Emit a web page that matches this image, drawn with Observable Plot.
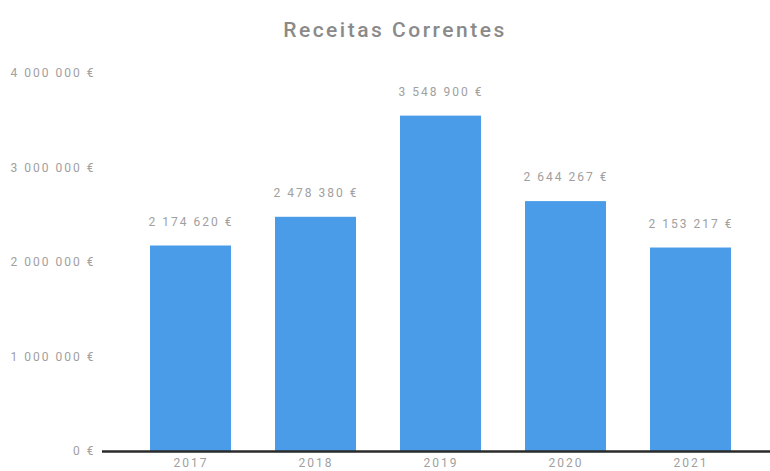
<!DOCTYPE html>
<html><head><meta charset="utf-8">
<script src="https://cdn.jsdelivr.net/npm/d3@7"></script>
<script src="https://cdn.jsdelivr.net/npm/@observablehq/plot@0.6"></script>
<style>
body{margin:0;background:#fff;font-family:Roboto,"Noto Sans",sans-serif;}
#title{height:50px;line-height:60px;text-align:center;font-size:21px;font-weight:500;color:#8a8a8a;letter-spacing:2.5px;padding-left:20px;}
svg text{letter-spacing:2px;}
</style></head>
<body>
<div id="title">Receitas Correntes</div>
<div id="chart"></div>
<script>
const years = ["2017","2018","2019","2020","2021"];
const values = [2174620, 2478380, 3548900, 2644267, 2153217];
const yTicks = [0, 1000000, 2000000, 3000000, 4000000];

const loc = d3.formatLocale({decimal:",", thousands:" ", grouping:[3], currency:["", " €"]});
const fmt = v => loc.format(",.0f")(v) + " €";
const data = years.map((y,i)=>({year:y, value:values[i]}));

const chart = Plot.plot({
  width: 770, height: 421,
  marginLeft: 102, marginRight: 0, marginTop: 23, marginBottom: 20,
  style: {fontFamily: "Roboto, sans-serif", fontSize: "12px", color: "#a0a0a0"},
  x: {domain: years, range: [127, 755], paddingInner: 0.35, paddingOuter: 0.17, label: null, tickSize: 0, tickPadding: 7},
  y: {domain: [0, 4000000], ticks: yTicks, tickFormat: fmt, label: null, tickSize: 0, tickPadding: 7},
  marks: [
    Plot.barY(data, {x: "year", y: "value", fill: "#4a9be8"}),
    Plot.text(data, {x: "year", y: "value", text: d => fmt(d.value), dy: -24, fill: "#a0a0a0", fontSize: 12}),
    Plot.ruleY([0], {stroke: "#2a2a2a", strokeWidth: 2.5})
  ]
});
document.getElementById("chart").appendChild(chart);
</script>
</body></html>
